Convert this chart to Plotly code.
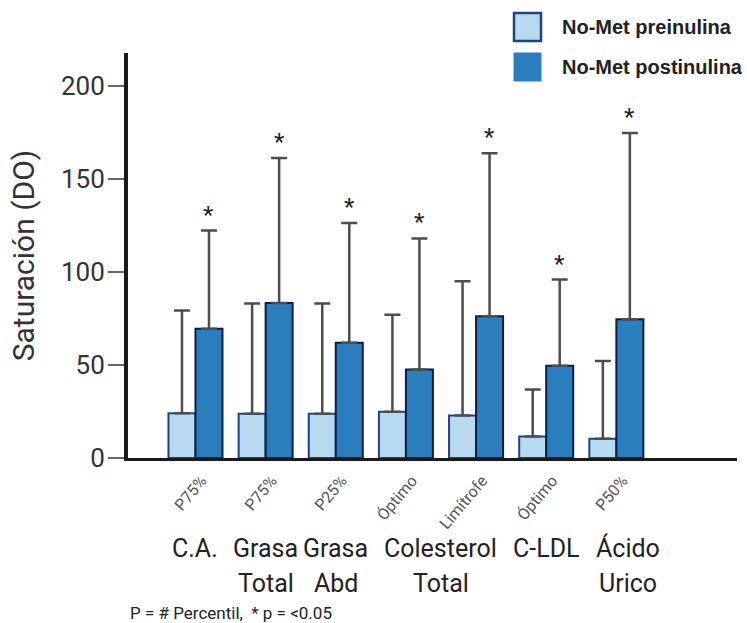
import plotly.graph_objects as go

# ---------------- data ----------------
groups = ["C.A.", "Grasa Total", "Grasa Abd", "Colesterol Total Óptimo",
          "Colesterol Total Limítrofe", "C-LDL", "Ácido Urico"]
sub_labels = ["P75%", "P75%", "P25%", "Óptimo", "Limítrofe", "Óptimo", "P50%"]

pre_means = [24.1, 23.8, 23.8, 24.9, 22.9, 11.6, 10.4]
pre_sd = [55.2, 59.2, 59.2, 52.0, 72.1, 25.2, 41.7]
post_means = [69.5, 83.3, 61.9, 47.6, 76.2, 49.6, 74.5]
post_sd = [52.7, 77.9, 64.4, 70.4, 87.6, 46.3, 100.1]
significant = [True, True, True, True, True, True, True]

name_line1 = ["C.A.", "Grasa", "Grasa", "Colesterol", "C-LDL", "Ácido"]
name_line2 = ["", "Total", "Abd", "Total", "", "Urico"]
name_pos = [0, 1, 2, 3.5, 5, 6]
name_shift = [0, 0, 0, 0, 0, 12]

series_names = ["No-Met preinulina", "No-Met postinulina"]
footnote = "P = # Percentil,  * p = <0.05"
y_title = "Saturación (DO)"
y_ticks = [0, 50, 100, 150, 200]

# ---------------- style ----------------
LIGHT = "#B7DAF0"
LIGHT_EDGE = "#1D4380"
DARK = "#2A7EBD"
DARK_EDGE = "#0B1F45"
ERR = "#4d4d4d"
FONT = "Roboto"

W, H = 747, 623
ML, MR, MT, MB = 128, 10, 53, 165
PW, PH = W - ML - MR, H - MT - MB


def px_x(p):
    return (p - ML) / PW


def px_y(p):
    return (H - MB - p) / PH


fig = go.Figure()
fig.add_trace(go.Bar(
    x=groups, y=pre_means, name=series_names[0],
    marker=dict(color=LIGHT, line=dict(color=LIGHT_EDGE, width=2)),
    error_y=dict(type="data", symmetric=False, array=pre_sd,
                 arrayminus=[0] * len(pre_sd), color=ERR, thickness=2.5, width=8),
))
fig.add_trace(go.Bar(
    x=groups, y=post_means, name=series_names[1],
    marker=dict(color=DARK, line=dict(color=DARK_EDGE, width=2)),
    error_y=dict(type="data", symmetric=False, array=post_sd,
                 arrayminus=[0] * len(post_sd), color=ERR, thickness=2.5, width=8),
))

annotations = []
# significance stars
for i, (m, s, sig) in enumerate(zip(post_means, post_sd, significant)):
    if sig:
        annotations.append(dict(x=i + 0.1925, y=m + s, xref="x", yref="y",
                                text="*", showarrow=False, yanchor="bottom",
                                yshift=0, font=dict(family=FONT, size=24, color="#222")))
# group names
for pos, l1, l2, sh in zip(name_pos, name_line1, name_line2, name_shift):
    annotations.append(dict(x=pos, y=px_y(548), xref="x", yref="paper", text=l1,
                            showarrow=False, xanchor="center", yanchor="middle",
                            xshift=sh, font=dict(family=FONT, size=25, color="#222")))
    if l2:
        annotations.append(dict(x=pos, y=px_y(583), xref="x", yref="paper", text=l2,
                                showarrow=False, xanchor="center", yanchor="middle",
                                xshift=sh, font=dict(family=FONT, size=25, color="#222")))
# footnote
annotations.append(dict(x=0, y=px_y(613), xref="paper", yref="paper", text=footnote,
                        showarrow=False, xanchor="left", yanchor="middle",
                        font=dict(family=FONT, size=17, color="#222")))
# legend texts
for yy, nm in zip([27, 67], series_names):
    annotations.append(dict(x=px_x(560), y=px_y(yy), xref="paper", yref="paper",
                            text="<b>" + nm + "</b>", showarrow=False,
                            xanchor="left", yanchor="middle",
                            font=dict(family="Liberation Sans", size=20, color="#222")))

shapes = [
    dict(type="rect", xref="paper", yref="paper",
         x0=px_x(514), x1=px_x(541), y0=px_y(41), y1=px_y(13),
         fillcolor=LIGHT, line=dict(color=LIGHT_EDGE, width=2.5)),
    dict(type="rect", xref="paper", yref="paper",
         x0=px_x(514), x1=px_x(541), y0=px_y(81), y1=px_y(53),
         fillcolor=DARK, line=dict(color=DARK, width=1)),
]

fig.update_layout(
    width=W, height=H,
    margin=dict(l=ML, r=MR, t=MT, b=MB, pad=0),
    paper_bgcolor="white", plot_bgcolor="white",
    barmode="group", bargap=0.23, bargroupgap=0,
    showlegend=False,
    annotations=annotations, shapes=shapes,
    font=dict(family=FONT, color="#222"),
)
fig.update_xaxes(
    type="category", range=[-0.962, 7.72],
    tickmode="array", tickvals=groups, ticktext=sub_labels, tickangle=-50,
    tickfont=dict(family=FONT, size=16, color="#555"),
    ticklabelshift=6, ticklabelstandoff=4,
    ticks="", showline=True, linecolor="#1a1a1a", linewidth=3,
    showgrid=False, zeroline=False,
)
fig.update_yaxes(
    range=[0, 217.6], tickvals=y_ticks,
    tickfont=dict(family=FONT, size=26, color="#333"),
    ticks="outside", ticklen=16, tickwidth=1.5, tickcolor="#666",
    ticklabelstandoff=-2,
    showline=True, linecolor="#1a1a1a", linewidth=4,
    showgrid=False, zeroline=False,
    title=dict(text=y_title, font=dict(family=FONT, size=30, color="#333"), standoff=18),
)

fig.write_html(
    "out.html",
    config={"displayModeBar": False},
    post_script="document.body.style.margin='0px';document.body.style.overflow='hidden';",
)
